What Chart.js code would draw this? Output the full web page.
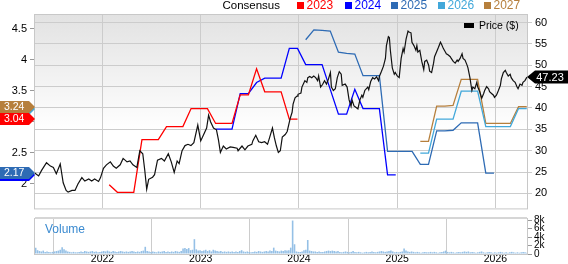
<!DOCTYPE html>
<html>
<head>
<meta charset="utf-8">
<script src="https://cdn.jsdelivr.net/npm/chart.js@4.4.1/dist/chart.umd.min.js"></script>
<style>
    html, body { margin: 0; padding: 0; background: #fff; }
    body { width: 568px; height: 264px; position: relative; overflow: hidden; font-family: 'Liberation Sans', Arial, sans-serif; }
    canvas { position: absolute; left: 0; }
    #priceChart { top: 0; }
    #volumeChart { top: 208px; }
    .txt { position: absolute; white-space: nowrap; }
    .sq { position: absolute; width: 7px; height: 7px; }
</style>
</head>
<body>
<canvas id="priceChart" width="568" height="218"></canvas>
<canvas id="volumeChart" width="568" height="56"></canvas>
<div id="overlay"></div>

<script>
// ---- data ----
const yearTicks = [2022, 2023, 2024, 2025, 2026];
const priceTicks = [20, 25, 30, 35, 40, 45, 50, 55, 60];
const epsTicks = [2, 2.5, 3, 3.5, 4, 4.5];
const volumeTicks = [0, 2, 4, 6, 8];

const seriesNames = ['2023', '2024', '2025', '2026', '2027'];
const seriesColors = ['#ff0000', '#0000ff', '#2e6bb4', '#42a8da', '#b67f3c'];
const seriesStart = ['2022-01', '2023-02', '2024-01', '2025-03', '2025-03'];

// consensus EPS estimates, one value per month
const eps2023 = [1.98, 1.86, 1.86, 1.86, 2.71, 2.71, 2.71, 2.92, 2.92, 2.92, 3.21, 3.21,
    3.21, 2.97, 2.97, 2.97, 3.43, 3.43, 3.85, 3.48, 3.48, 3.48, 3.04, 3.04];
const eps2024 = [2.88, 2.88, 2.88, 3.45, 3.45, 3.63, 3.70, 3.70, 3.70, 4.18, 4.18,
    3.92, 3.92, 3.92, 3.52, 3.12, 3.12, 3.52, 3.21, 3.21, 3.21, 2.14, 2.14];
const eps2025 = [4.32, 4.48, 4.47, 4.46, 4.12, 4.10, 4.09, 3.74, 3.74, 3.74, 2.52, 2.52,
    2.52, 2.52, 2.31, 2.31, 2.85, 2.85, 2.86, 2.98, 2.98, 2.98, 2.17, 2.17];
const eps2026 = [2.49, 2.49, 3.04, 3.04, 3.04, 3.49, 3.49, 3.49, 2.92, 2.92, 2.92, 2.92, 3.21, 3.21];
const eps2027 = [2.68, 2.68, 3.25, 3.25, 3.26, 3.68, 3.68, 3.68, 2.97, 2.97, 2.97, 2.97, 3.24, 3.24];
const epsSeries = [eps2023, eps2024, eps2025, eps2026, eps2027];

// share price ($), [decimal year, close]
const pricePoints = [
    [2021.31, 24.8], [2021.35, 24.1], [2021.38, 25.4], [2021.43, 27.2], [2021.47, 26.4], [2021.50, 26.1],
    [2021.53, 24.6], [2021.57, 26.9], [2021.60, 22.5], [2021.63, 20.7], [2021.65, 20.3], [2021.69, 20.7],
    [2021.72, 20.7], [2021.75, 22.2], [2021.79, 23.7], [2021.82, 22.9], [2021.86, 23.4], [2021.89, 22.9],
    [2021.92, 23.4], [2021.96, 22.8], [2021.98, 23.7], [2022.01, 25.9], [2022.04, 26.7], [2022.08, 27.4],
    [2022.11, 26.4], [2022.14, 25.9], [2022.18, 26.7], [2022.21, 28.2], [2022.25, 27.4], [2022.28, 27.6],
    [2022.31, 26.7], [2022.35, 26.1], [2022.38, 30.0], [2022.41, 29.3], [2022.43, 25.5], [2022.45, 21.0],
    [2022.47, 23.3], [2022.51, 23.8], [2022.53, 24.4], [2022.56, 27.8], [2022.60, 28.2], [2022.63, 27.6],
    [2022.67, 29.3], [2022.70, 27.4], [2022.73, 24.9], [2022.76, 27.6], [2022.78, 27.0], [2022.81, 30.0],
    [2022.84, 31.2], [2022.87, 31.5], [2022.90, 31.2], [2022.93, 31.9], [2022.97, 36.0], [2023.00, 32.3],
    [2023.03, 33.8], [2023.06, 35.3], [2023.08, 38.3], [2023.10, 36.8], [2023.13, 35.3], [2023.16, 34.9],
    [2023.18, 32.6], [2023.20, 29.6], [2023.23, 31.1], [2023.26, 30.4], [2023.30, 30.9], [2023.33, 30.8],
    [2023.37, 30.6], [2023.38, 30.0], [2023.42, 31.1], [2023.45, 30.2], [2023.48, 31.1], [2023.52, 31.5],
    [2023.53, 32.3], [2023.56, 33.6], [2023.59, 32.1], [2023.62, 31.9], [2023.65, 32.1], [2023.68, 31.5],
    [2023.70, 33.0], [2023.73, 35.3], [2023.75, 33.0], [2023.77, 31.1], [2023.79, 29.6], [2023.81, 30.0],
    [2023.83, 33.2], [2023.86, 33.8], [2023.88, 34.5], [2023.91, 37.5], [2023.93, 39.0], [2023.94, 40.9],
    [2023.96, 42.4], [2023.98, 42.8], [2023.99, 43.2], [2024.02, 43.5], [2024.03, 44.9], [2024.06, 46.4],
    [2024.08, 46.0], [2024.09, 47.1], [2024.11, 47.4], [2024.13, 47.1], [2024.15, 47.5], [2024.17, 47.1],
    [2024.19, 46.4], [2024.20, 47.5], [2024.22, 44.9], [2024.24, 45.5], [2024.26, 46.4], [2024.28, 45.6],
    [2024.30, 46.8], [2024.32, 48.3], [2024.33, 44.9], [2024.35, 44.1], [2024.37, 44.5], [2024.39, 47.1],
    [2024.41, 48.5], [2024.43, 47.9], [2024.44, 45.3], [2024.47, 45.6], [2024.49, 44.9], [2024.51, 41.9],
    [2024.53, 40.4], [2024.54, 41.9], [2024.56, 40.5], [2024.60, 39.8], [2024.62, 41.9], [2024.64, 43.0],
    [2024.65, 42.5], [2024.67, 44.1], [2024.70, 44.9], [2024.71, 44.3], [2024.73, 46.2], [2024.75, 47.1],
    [2024.77, 46.8], [2024.79, 47.3], [2024.81, 46.4], [2024.82, 47.5], [2024.84, 48.6], [2024.86, 49.8],
    [2024.88, 51.6], [2024.89, 54.6], [2024.91, 56.7], [2024.92, 56.5], [2024.93, 53.5], [2024.95, 49.4],
    [2024.97, 47.9], [2024.98, 48.3], [2025.00, 47.5], [2025.02, 47.1], [2025.04, 51.6], [2025.06, 53.9],
    [2025.07, 53.1], [2025.09, 56.1], [2025.11, 58.0], [2025.12, 57.8], [2025.14, 57.6], [2025.15, 55.4],
    [2025.17, 54.6], [2025.19, 53.5], [2025.20, 54.6], [2025.21, 53.1], [2025.23, 53.5], [2025.25, 50.9],
    [2025.27, 49.0], [2025.28, 50.9], [2025.30, 51.2], [2025.32, 50.0], [2025.33, 48.6], [2025.35, 48.3],
    [2025.37, 50.5], [2025.38, 52.0], [2025.40, 53.1], [2025.42, 54.2], [2025.44, 55.4], [2025.45, 55.0],
    [2025.47, 53.9], [2025.49, 53.1], [2025.50, 52.7], [2025.52, 52.4], [2025.54, 52.0], [2025.55, 51.6],
    [2025.57, 50.9], [2025.59, 50.5], [2025.61, 51.2], [2025.62, 50.9], [2025.64, 51.6], [2025.66, 52.7],
    [2025.67, 51.6], [2025.69, 51.2], [2025.71, 50.1], [2025.72, 49.4], [2025.74, 47.1], [2025.76, 44.1],
    [2025.77, 44.9], [2025.79, 44.5], [2025.81, 46.0], [2025.82, 44.9], [2025.84, 43.8], [2025.86, 42.3],
    [2025.88, 43.4], [2025.89, 44.1], [2025.91, 45.0], [2025.93, 44.5], [2025.94, 43.8], [2025.96, 43.4],
    [2025.98, 43.0], [2025.99, 42.5], [2026.01, 43.0], [2026.03, 44.1], [2026.05, 45.3], [2026.06, 46.8],
    [2026.08, 48.3], [2026.10, 48.8], [2026.11, 48.3], [2026.13, 47.5], [2026.15, 47.9], [2026.16, 47.1],
    [2026.18, 46.4], [2026.20, 46.0], [2026.22, 44.9], [2026.23, 44.5], [2026.25, 45.6], [2026.27, 45.3],
    [2026.28, 46.0], [2026.30, 46.4], [2026.32, 47.23]
];

// weekly volume (thousands of shares), first week starts at volumeStart
const volumeStart = 2021.32;
const volumeValues = [
    1.5, 0.9, 0.7, 0.6, 0.8, 0.5, 0.6, 0.5, 0.4, 0.5, 0.6, 0.7, 0.8, 1.0, 1.6, 1.1, 0.8, 0.6, 0.5, 0.4,
    0.5, 0.4, 0.4, 0.5, 0.6, 0.5, 0.7, 0.6, 0.5, 0.6, 0.7, 0.5, 0.6, 0.4, 0.5, 0.6, 0.7, 0.6, 0.8, 0.6,
    0.5, 0.7, 0.6, 0.5, 0.6, 0.7, 0.6, 0.5, 0.6, 0.5, 0.6, 0.7,
    0.6, 0.5, 0.6, 0.5, 0.7, 0.8, 1.7, 0.7, 0.6, 0.5, 0.6, 0.5, 0.4, 0.6, 0.5, 0.6, 0.7, 0.5, 0.6, 0.5,
    0.6, 0.5, 0.7, 0.6, 0.5, 0.7, 1.3, 1.4, 1.2, 1.4, 0.9, 1.0, 3.5, 1.1, 0.8, 0.9, 0.7, 0.8, 1.0, 0.7,
    0.9, 0.6, 1.0, 0.8, 0.7, 0.6, 0.7, 0.5, 0.6, 0.5, 0.6, 0.5,
    0.6, 0.5, 0.6, 0.5, 0.7, 0.9, 0.6, 0.5, 0.6, 0.5, 0.4, 0.5, 0.6, 0.5, 0.7, 0.6, 0.5, 0.6, 0.7, 0.6,
    0.8, 0.7, 1.5, 0.8, 0.7, 0.6, 0.8, 0.7, 0.9, 0.8, 0.9, 1.5, 7.9, 2.3, 0.6, 0.5, 0.5, 0.6, 0.9, 1.0,
    3.3, 0.8, 0.7, 0.6, 0.6, 0.5, 0.6, 0.5, 0.5, 0.6, 0.7, 0.8,
    0.7, 0.8, 0.7, 0.6, 0.7, 0.5, 0.4, 0.5, 0.6, 0.5, 0.4, 0.5, 0.7, 0.5, 0.4, 0.5, 0.4, 0.3, 0.4, 0.5,
    0.4, 0.5, 0.6, 0.5, 0.4, 0.5, 0.6, 0.7, 0.6, 0.5, 0.6, 0.7, 0.8, 0.6, 0.4, 0.5, 0.4, 0.5, 0.6, 1.3,
    0.8, 0.6, 0.5, 0.6, 0.5, 0.4, 0.5, 0.4, 0.3, 0.4, 0.5, 0.4,
    0.4, 0.5, 0.4, 0.5, 0.4, 0.3, 0.4, 0.5, 0.6, 0.8, 0.5, 0.4, 0.5, 0.4, 0.3, 0.4, 0.5, 0.4, 0.5, 0.6,
    0.5, 0.6, 0.4, 0.5, 0.4, 0.3, 0.4, 0.5, 0.6, 0.4, 0.3, 0.4, 0.5, 0.4, 0.3, 0.4, 0.3, 0.4, 0.5, 0.4,
    0.3, 0.4, 0.3, 0.4, 0.5, 0.4, 0.3, 0.4, 0.3, 0.4, 0.5, 0.4, 0.3
];

// ---- layout ----
const xMin = 2021.313;
const xMax = 2026.321;
const fontFamily = "'Liberation Sans', Arial, sans-serif";
const tagOrder = [1, 2, 3, 4, 0];

Chart.defaults.font.family = fontFamily;
Chart.defaults.color = '#000';
Chart.defaults.animation = false;

const monthToX = (start, i) => {
    const [y, m] = start.split('-').map(Number);
    return y + (m - 1 + 0.82 + i) / 12;
};

const fixTicks = list => scale => { scale.ticks = list.map(v => ({ value: v })); };

const drawLeftTag = (ctx, y, color, text) => {
    ctx.beginPath();
    ctx.moveTo(0, y - 6);
    ctx.lineTo(29, y - 6);
    ctx.lineTo(35, y);
    ctx.lineTo(29, y + 6);
    ctx.lineTo(0, y + 6);
    ctx.closePath();
    ctx.fillStyle = color;
    ctx.fill();
    ctx.fillStyle = '#fff';
    ctx.font = '10.5px ' + fontFamily;
    ctx.textAlign = 'left';
    ctx.textBaseline = 'middle';
    ctx.fillText(text, 4, y + 0.5);
};

const panelPlugin = {
    id: 'panel',
    beforeDraw(chart) {
        const { ctx, chartArea: a } = chart;
        const g = ctx.createLinearGradient(0, a.top, 0, a.bottom);
        g.addColorStop(0, '#e2e2e2');
        g.addColorStop(0.6, '#ffffff');
        ctx.save();
        ctx.fillStyle = g;
        ctx.fillRect(a.left, a.top, a.right - a.left, a.bottom - a.top);
        ctx.restore();
    },
    afterDraw(chart) {
        const { ctx, chartArea: a, scales } = chart;
        ctx.save();
        ctx.strokeStyle = '#c8c8c8';
        ctx.lineWidth = 1;
        ctx.strokeRect(a.left - 0.5, a.top + 0.5, a.right - a.left + 1, a.bottom - a.top);

        tagOrder.forEach(i => {
            const values = epsSeries[i];
            const last = values[values.length - 1];
            const y = Math.round(scales.eps.getPixelForValue(last));
            drawLeftTag(ctx, y, seriesColors[i], last.toFixed(2));
        });

        const lastPrice = pricePoints[pricePoints.length - 1][1];
        const py = Math.round(scales.price.getPixelForValue(lastPrice));
        ctx.beginPath();
        ctx.moveTo(a.right, py);
        ctx.lineTo(a.right + 8, py - 6.5);
        ctx.lineTo(568, py - 6.5);
        ctx.lineTo(568, py + 6.5);
        ctx.lineTo(a.right + 8, py + 6.5);
        ctx.closePath();
        ctx.fillStyle = '#000';
        ctx.fill();
        ctx.fillStyle = '#fff';
        ctx.font = '11px ' + fontFamily;
        ctx.textAlign = 'center';
        ctx.textBaseline = 'middle';
        ctx.fillText(lastPrice.toFixed(2), 550, py + 0.5);
        ctx.restore();
    }
};

const volumePanelPlugin = {
    id: 'volumePanel',
    afterDraw(chart) {
        const { ctx, chartArea: a } = chart;
        ctx.save();
        ctx.strokeStyle = '#c8c8c8';
        ctx.lineWidth = 1;
        ctx.strokeRect(a.left - 0.5, a.top + 0.5, a.right - a.left + 1, a.bottom - a.top);
        ctx.fillStyle = '#d6d6d6';
        ctx.fillRect(a.left, a.top - 1, a.right - a.left, 2);
        ctx.restore();
    }
};

const epsDatasets = epsSeries.map((values, i) => ({
    label: seriesNames[i],
    data: values.map((v, k) => ({ x: monthToX(seriesStart[i], k), y: v })),
    yAxisID: 'eps',
    borderColor: seriesColors[i],
    borderWidth: 1.3,
    pointRadius: 0,
    tension: 0
}));

new Chart(document.getElementById('priceChart'), {
    type: 'line',
    data: {
        datasets: [
            {
                label: 'Price ($)',
                data: pricePoints.map(([x, y]) => ({ x, y })),
                yAxisID: 'price',
                borderColor: '#111',
                borderWidth: 1.2,
                pointRadius: 0,
                tension: 0
            },
            ...epsDatasets
        ]
    },
    options: {
        responsive: false,
        layout: { padding: { top: 14, bottom: 1, left: 0, right: 0 } },
        plugins: { legend: { display: false }, tooltip: { enabled: false } },
        scales: {
            x: {
                type: 'linear',
                min: xMin,
                max: xMax,
                afterBuildTicks: fixTicks(yearTicks),
                afterFit: s => { s.height = 0; },
                ticks: { display: false },
                grid: { color: '#cccccc', drawTicks: false },
                border: { display: false }
            },
            eps: {
                position: 'left',
                min: 1.6,
                max: 4.735,
                afterBuildTicks: fixTicks(epsTicks),
                afterFit: s => { s.width = 35; },
                ticks: { font: { size: 11 }, padding: 3, autoSkip: false, callback: v => String(v) },
                grid: { drawOnChartArea: false, color: '#999', tickLength: 5 },
                border: { display: false }
            },
            price: {
                position: 'right',
                min: 16.5,
                max: 62,
                afterBuildTicks: fixTicks(priceTicks),
                afterFit: s => { s.width = 41; },
                ticks: { font: { size: 11 }, padding: 3, autoSkip: false },
                grid: { color: '#cccccc', tickLength: 5 },
                border: { display: false }
            }
        }
    },
    plugins: [panelPlugin]
});

new Chart(document.getElementById('volumeChart'), {
    type: 'bar',
    data: {
        datasets: [{
            label: 'Volume',
            data: volumeValues.map((v, i) => ({ x: volumeStart + i / 52, y: v })),
            yAxisID: 'vol',
            backgroundColor: '#95c0e6',
            barPercentage: 0.85,
            categoryPercentage: 1
        }]
    },
    options: {
        responsive: false,
        layout: { padding: { top: 10, bottom: 0, left: 35, right: 0 } },
        plugins: { legend: { display: false }, tooltip: { enabled: false } },
        scales: {
            x: {
                type: 'linear',
                min: xMin,
                max: xMax,
                offset: false,
                afterBuildTicks: fixTicks(yearTicks),
                afterFit: s => { s.height = 10; },
                ticks: { font: { size: 10.5 }, padding: -1, maxRotation: 0, autoSkip: false, callback: v => String(v) },
                grid: { color: '#cccccc', drawTicks: false },
                border: { display: false }
            },
            vol: {
                position: 'right',
                min: 0,
                max: 8.5,
                afterBuildTicks: fixTicks(volumeTicks),
                afterFit: s => { s.width = 41; },
                ticks: { font: { size: 10 }, padding: 2, autoSkip: false, callback: v => (v ? v + 'k' : '0') },
                grid: { drawOnChartArea: false, color: '#999', tickLength: 5 },
                border: { display: false }
            }
        }
    },
    plugins: [volumePanelPlugin]
});

// ---- legend and labels as page text ----
const overlay = document.getElementById('overlay');
const addText = (text, css) => {
    const el = document.createElement('div');
    el.className = 'txt';
    el.textContent = text;
    Object.assign(el.style, css);
    overlay.appendChild(el);
};
const addBox = css => {
    const el = document.createElement('div');
    el.className = 'sq';
    Object.assign(el.style, css);
    overlay.appendChild(el);
};

addText('Consensus', { right: '288px', top: '-1px', fontSize: '11.5px', lineHeight: '13px', color: '#000' });
const legendLeft = [297, 345, 391, 438, 484];
seriesNames.forEach((name, i) => {
    addBox({ left: legendLeft[i] + 'px', top: '2px', background: seriesColors[i] });
    addText(name, { left: (legendLeft[i] + 9.5) + 'px', top: '-1px', fontSize: '12px', lineHeight: '13px', color: seriesColors[i] });
});
addBox({ left: '464px', top: '23px', width: '10px', height: '5px', background: '#000' });
addText('Price ($)', { left: '479px', top: '19px', fontSize: '10.5px', lineHeight: '13px', color: '#000' });
addText('Volume', { left: '45px', top: '222px', fontSize: '12px', lineHeight: '14px', color: '#3a8ad0' });
</script>
</body>
</html>
